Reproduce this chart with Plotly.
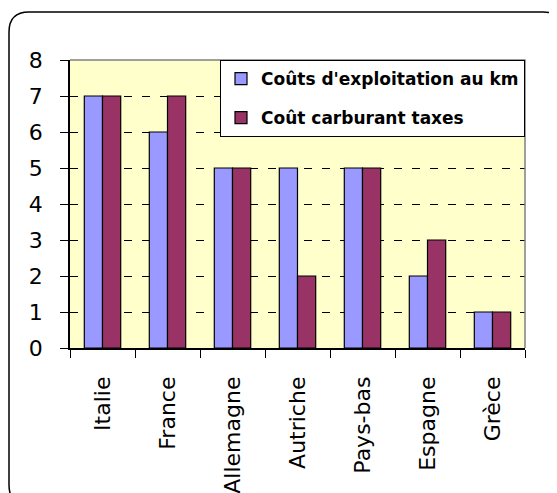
import plotly.graph_objects as go

categories = ["Italie", "France", "Allemagne", "Autriche", "Pays-bas", "Espagne", "Grèce"]
couts_exploitation = [7, 6, 5, 5, 5, 2, 1]
cout_carburant = [7, 7, 5, 2, 5, 3, 1]
series_names = ["Coûts d'exploitation au km", "Coût carburant taxes"]
y_ticks = [0, 1, 2, 3, 4, 5, 6, 7, 8]

# page has an 8px body margin; compensate so the plot lands at the reference pixels
OFF = 8
W, H = 557 - OFF, 493 - OFF
PL, PR, PT, PB = 70, 525, 60, 348          # plot area in page pixels
L, R, T, B = PL - OFF, W - (PR - OFF), PT - OFF, H - (PB - OFF)
pw, ph = PR - PL, PB - PT

def px(x):
    return (x - PL) / pw

def py(y):
    return (PB - y) / ph

fig = go.Figure()
fig.add_trace(go.Bar(x=categories, y=couts_exploitation, name=series_names[0],
                     legendgroup="a",
                     marker=dict(color="#9999FF", line=dict(color="black", width=1.2))))
fig.add_trace(go.Bar(x=categories, y=cout_carburant, name=series_names[1],
                     legendgroup="b",
                     marker=dict(color="#993366", line=dict(color="black", width=1.2))))

# outer rounded border (extends beyond figure at right/bottom)
x0, x1, y0, y1 = px(9), px(563), py(12), py(505)
rx, ry = 20 / pw, 20 / ph
path = (f"M{x0},{y1+ry} L{x0},{y0-ry} Q{x0},{y0} {x0+rx},{y0} "
        f"L{x1-rx},{y0} Q{x1},{y0} {x1},{y0-ry} L{x1},{y1+ry} "
        f"Q{x1},{y1} {x1-rx},{y1} L{x0+rx},{y1} Q{x0},{y1} {x0},{y1+ry} Z")

fig.update_layout(
    width=W, height=H,
    margin=dict(l=L, r=R, t=T, b=B, pad=0, autoexpand=False),
    paper_bgcolor="white",
    plot_bgcolor="#FFFFCC",
    barmode="group",
    bargap=0.44,
    bargroupgap=0,
    font=dict(family="DejaVu Sans", color="black"),
    showlegend=True,
    legend=dict(
        x=1.0, y=1.0, xanchor="right", yanchor="top",
        bgcolor="white", bordercolor="black", borderwidth=1,
        font=dict(family="DejaVu Sans", size=17, color="black", weight="bold"),
        traceorder="grouped", tracegroupgap=14,
        itemwidth=30,
    ),
    shapes=[
        dict(type="path", xref="paper", yref="paper", path=path,
             line=dict(color="black", width=1.5), layer="below"),
        dict(type="path", xref="paper", yref="paper", path="M0,1 L1,1 L1,0",
             line=dict(color="#808080", width=1.5), layer="above"),
    ],
)

fig.update_yaxes(
    range=[0, 8], tickvals=y_ticks, ticktext=[str(v) for v in y_ticks],
    showgrid=True, gridcolor="black", gridwidth=1, griddash="8px,10px",
    zeroline=False,
    showline=True, linecolor="black", linewidth=1.5,
    ticks="outside", ticklen=8, tickcolor="black", tickwidth=1,
    tickfont=dict(family="DejaVu Sans", size=22, color="black"),
    ticklabelstandoff=13,
)
fig.update_xaxes(
    showgrid=False, zeroline=False,
    showline=True, linecolor="black", linewidth=1.5,
    ticks="outside", ticklen=8, tickcolor="black", tickwidth=1,
    tickson="boundaries", tickangle=-90,
    tickfont=dict(family="DejaVu Sans", size=22, color="black"),
    ticklabelstandoff=18,
)

fig.write_html("out.html")
